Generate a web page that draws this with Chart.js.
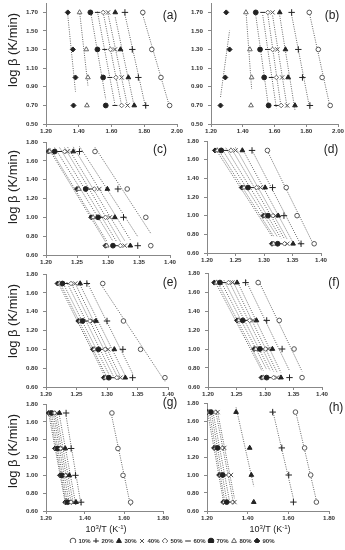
<!DOCTYPE html>
<html>
<head>
<meta charset="utf-8">
<script src="https://cdn.jsdelivr.net/npm/chart.js@4.4.1/dist/chart.umd.min.js"></script>
<style>
  body { margin: 0; background: #fff; width: 345px; height: 550px; position: relative; overflow: hidden;
         font-family: 'Liberation Sans', Arial, sans-serif; color: #222; }
  canvas { position: absolute; }
  .ytitle { position: absolute; width: 100px; height: 16px; line-height: 16px; text-align: center;
            font-size: 13px; transform: rotate(-90deg); white-space: nowrap; }
  .plabel { position: absolute; width: 30px; height: 14px; line-height: 14px; text-align: center; font-size: 12px; }
  .xtitle { position: absolute; width: 80px; height: 12px; line-height: 12px; text-align: center; font-size: 9px; }
  .xtitle sup { font-size: 6px; vertical-align: 3px; line-height: 0; }
</style>
</head>
<body>
<script>
// log of heating rate (50, 20, 10, 5 K/min)
var LOG_BETA = [1.699, 1.301, 1.000, 0.699];
var CONVERSION = ['10%', '20%', '30%', '40%', '50%', '60%', '70%', '80%', '90%'];

// 1000/T values, one row per conversion, same order as LOG_BETA
var X_A = [
  [1.791, 1.846, 1.902, 1.955],
  [1.682, 1.727, 1.764, 1.809],
  [1.623, 1.655, 1.703, 1.739],
  [1.579, 1.621, 1.662, 1.698],
  [1.549, 1.594, 1.627, 1.662],
  [1.514, 1.559, 1.590, 1.621],
  [1.471, 1.514, 1.549, 1.565],
  [1.405, 1.446, 1.456, 1.450],
  [1.333, 1.364, 1.380, 1.368]
];
var X_B = [
  [1.819, 1.876, 1.900, 1.951],
  [1.708, 1.750, 1.776, 1.823],
  [1.633, 1.669, 1.686, 1.729],
  [1.588, 1.618, 1.648, 1.680],
  [1.558, 1.588, 1.612, 1.642],
  [1.526, 1.556, 1.580, 1.612],
  [1.482, 1.509, 1.535, 1.563],
  [1.420, 1.445, 1.456, 1.452],
  [1.296, 1.317, 1.290, 1.260]
];
var X_C = [
  [1.279, 1.331, 1.361, 1.369],
  [1.254, 1.316, 1.325, 1.348],
  [1.244, 1.299, 1.311, 1.336],
  [1.235, 1.286, 1.303, 1.327],
  [1.230, 1.278, 1.296, 1.320],
  [1.222, 1.271, 1.289, 1.314],
  [1.214, 1.264, 1.284, 1.308],
  [1.206, 1.253, 1.276, 1.298],
  [1.204, 1.250, 1.273, 1.296]
];
var X_D = [
  [1.306, 1.339, 1.358, 1.388],
  [1.279, 1.315, 1.335, 1.365],
  [1.262, 1.302, 1.325, 1.351],
  [1.250, 1.294, 1.320, 1.341],
  [1.242, 1.287, 1.316, 1.336],
  [1.233, 1.279, 1.311, 1.330],
  [1.225, 1.272, 1.307, 1.324],
  [1.218, 1.265, 1.302, 1.317],
  [1.214, 1.261, 1.299, 1.314]
];
var X_E = [
  [1.293, 1.327, 1.355, 1.395],
  [1.267, 1.300, 1.326, 1.342],
  [1.256, 1.282, 1.312, 1.330],
  [1.248, 1.277, 1.302, 1.322],
  [1.241, 1.272, 1.297, 1.316],
  [1.234, 1.267, 1.290, 1.310],
  [1.227, 1.260, 1.286, 1.303],
  [1.222, 1.256, 1.279, 1.298],
  [1.219, 1.253, 1.277, 1.295]
];
var X_F = [
  [1.288, 1.325, 1.351, 1.365],
  [1.266, 1.303, 1.330, 1.343],
  [1.251, 1.285, 1.313, 1.328],
  [1.243, 1.279, 1.306, 1.321],
  [1.236, 1.273, 1.301, 1.315],
  [1.228, 1.266, 1.296, 1.309],
  [1.221, 1.261, 1.291, 1.303],
  [1.215, 1.254, 1.284, 1.297],
  [1.211, 1.251, 1.281, 1.294]
];
var X_G = [
  [1.538, 1.569, 1.595, 1.634],
  [1.303, 1.329, 1.351, 1.380],
  [1.269, 1.299, 1.320, 1.354],
  [1.255, 1.286, 1.311, 1.341],
  [1.245, 1.277, 1.303, 1.329],
  [1.238, 1.269, 1.291, 1.320],
  [1.229, 1.260, 1.282, 1.311],
  [1.221, 1.251, 1.277, 1.303],
  [1.214, 1.246, 1.272, 1.299]
];
var X_H = [
  [1.635, 1.680, 1.710, 1.738],
  [1.523, 1.568, 1.602, 1.625],
  [1.343, 1.410, 1.418, 1.430],
  [1.252, 1.285, 1.318, 1.335],
  [1.243, 1.277, 1.307, 1.327],
  [1.230, 1.260, 1.290, 1.310],
  [1.220, 1.252, 1.277, 1.297],
  [1.210, 1.243, 1.268, 1.285],
  [1.202, 1.235, 1.260, 1.280]
];

var X_TICKS_AB = [1.20, 1.40, 1.60, 1.80, 2.00];
var X_TICKS_CF = [1.20, 1.25, 1.30, 1.35, 1.40];
var X_TICKS_GH = [1.20, 1.40, 1.60, 1.80];
var Y_TICKS_AB = [0.50, 0.70, 0.90, 1.10, 1.30, 1.50, 1.70];
var Y_TICKS_CH = [0.60, 0.80, 1.00, 1.20, 1.40, 1.60, 1.80];

Chart.defaults.font.family = "'Liberation Sans', Arial, sans-serif";
Chart.defaults.color = '#333';

// marker look for each conversion (10% .. 90%)
var MARKERS = [
  {style: 'circle', fill: '#fff', line: '#555', r: 2.3},
  {style: 'cross', fill: '#222', line: '#222', r: 3.2},
  {style: 'triangle', fill: '#222', line: '#222', r: 2.7},
  {style: 'crossRot', fill: '#555', line: '#555', r: 3},
  {style: 'rectRot', fill: '#fff', line: '#666', r: 2.3},
  {style: 'line', fill: '#222', line: '#222', r: 2.5},
  {style: 'circle', fill: '#222', line: '#222', r: 2.4},
  {style: 'triangle', fill: '#fff', line: '#666', r: 2.7},
  {style: 'rectRot', fill: '#222', line: '#222', r: 2.5}
];

// least squares line y = a + b x, drawn between the smallest and largest x
function fitLine(xs, ys) {
  var n = xs.length, mx = 0, my = 0, sxy = 0, sxx = 0;
  for (var i = 0; i < n; i++) { mx += xs[i] / n; my += ys[i] / n; }
  for (var j = 0; j < n; j++) {
    sxy += (xs[j] - mx) * (ys[j] - my);
    sxx += (xs[j] - mx) * (xs[j] - mx);
  }
  var b = sxy / sxx, a = my - b * mx;
  var x0 = Math.min.apply(null, xs), x1 = Math.max.apply(null, xs);
  return [{x: x0, y: a + b * x0}, {x: x1, y: a + b * x1}];
}

function axis(min, max, ticks, isX) {
  return {
    type: 'linear', min: min, max: max,
    afterBuildTicks: function(s) {
      s.ticks = ticks.map(function(v) { return {value: v}; });
    },
    afterFit: function(s) {
      if (isX) { s.height = 22; s.paddingLeft = 0; s.paddingRight = 0; }
      else { s.width = 40; s.paddingTop = 0; s.paddingBottom = 0; }
    },
    grid: {drawOnChartArea: false, drawTicks: true, tickLength: 3, color: '#888'},
    border: {color: '#888', width: 1},
    ticks: {
      font: {size: 6.2, weight: 'bold'}, color: '#333',
      padding: isX ? 1 : 5, maxRotation: 0, autoSkip: false,
      callback: function(v) { return Number(v).toFixed(2); }
    }
  };
}

function makePanel(xdata, box, xr, xticks, yr, yticks) {
  var cv = document.createElement('canvas');
  var left = Math.round(box.l) - 40, top = Math.round(box.t) - 8;
  var w = Math.round(box.r) - Math.round(box.l) + 55;
  var h = Math.round(box.b) - Math.round(box.t) + 38;
  cv.width = w; cv.height = h;
  cv.style.left = left + 'px'; cv.style.top = top + 'px';
  cv.style.width = w + 'px'; cv.style.height = h + 'px';
  document.body.appendChild(cv);

  var datasets = [];
  xdata.forEach(function(xs, i) {
    var m = MARKERS[i];
    datasets.push({
      label: CONVERSION[i],
      data: xs.map(function(x, j) { return {x: x, y: LOG_BETA[j]}; }),
      pointStyle: m.style, pointRadius: m.r, pointBackgroundColor: m.fill,
      pointBorderColor: m.line, pointBorderWidth: 1, order: 0
    });
    datasets.push({
      label: CONVERSION[i] + ' fit',
      data: fitLine(xs, LOG_BETA),
      showLine: true, pointRadius: 0, borderColor: '#666', borderWidth: 1,
      borderDash: [1, 1.3], fill: false, order: 1
    });
  });

  new Chart(cv.getContext('2d'), {
    type: 'scatter',
    data: {datasets: datasets},
    options: {
      responsive: false, animation: false,
      layout: {padding: {left: 0, top: 8, right: 15, bottom: 8}},
      scales: {
        x: axis(xr[0], xr[1], xticks, true),
        y: axis(yr[0], yr[1], yticks, false)
      },
      plugins: {legend: {display: false}, tooltip: {enabled: false}}
    }
  });
}

function addText(cls, html, cx, cy, w, h) {
  var d = document.createElement('div');
  d.className = cls;
  d.innerHTML = html;
  d.style.left = (cx - w / 2) + 'px';
  d.style.top = (cy - h / 2) + 'px';
  document.body.appendChild(d);
}

makePanel(X_A, {l: 46, r: 177, t: 3, b: 124}, [1.2, 2.0], X_TICKS_AB, [0.5, 1.8], Y_TICKS_AB);
makePanel(X_B, {l: 211, r: 338, t: 3, b: 124}, [1.2, 2.0], X_TICKS_AB, [0.5, 1.8], Y_TICKS_AB);
makePanel(X_C, {l: 46, r: 170, t: 142, b: 255}, [1.2, 1.4], X_TICKS_CF, [0.6, 1.8], Y_TICKS_CH);
makePanel(X_D, {l: 207, r: 321, t: 141, b: 253}, [1.2, 1.4], X_TICKS_CF, [0.6, 1.8], Y_TICKS_CH);
makePanel(X_E, {l: 46, r: 168, t: 274, b: 387}, [1.2, 1.4], X_TICKS_CF, [0.6, 1.8], Y_TICKS_CH);
makePanel(X_F, {l: 208, r: 322, t: 273, b: 387}, [1.2, 1.4], X_TICKS_CF, [0.6, 1.8], Y_TICKS_CH);
makePanel(X_G, {l: 46, r: 163, t: 404, b: 511}, [1.2, 1.8], X_TICKS_GH, [0.6, 1.8], Y_TICKS_CH);
makePanel(X_H, {l: 207, r: 329, t: 403, b: 511}, [1.2, 1.8], X_TICKS_GH, [0.6, 1.8], Y_TICKS_CH);

[50, 187, 321, 451].forEach(function(cy) {
  addText('ytitle', 'log \u03b2 (K/min)', 12.5, cy, 100, 16);
});
var PANEL_LABELS = ['(a)', '(b)', '(c)', '(d)', '(e)', '(f)', '(g)', '(h)'];
var LABEL_POS = [[170, 15], [332, 15], [160, 149], [331, 149], [170, 282], [334, 282], [170, 402], [336, 407]];
PANEL_LABELS.forEach(function(t, i) {
  addText('plabel', t, LABEL_POS[i][0], LABEL_POS[i][1], 30, 14);
});
addText('xtitle', '10<sup>3</sup>/T (K<sup>-1</sup>)', 106, 529, 80, 12);
addText('xtitle', '10<sup>3</sup>/T (K<sup>-1</sup>)', 270, 529, 80, 12);

// shared legend under the bottom row
var lg = document.createElement('canvas');
lg.width = 345; lg.height = 16;
lg.style.left = '0px'; lg.style.top = '535px';
document.body.appendChild(lg);
new Chart(lg.getContext('2d'), {
  type: 'scatter',
  data: {
    datasets: CONVERSION.map(function(c, i) {
      var m = MARKERS[i];
      return {label: c, data: [], pointStyle: m.style, pointRadius: m.r,
              pointBackgroundColor: m.fill, pointBorderColor: m.line, pointBorderWidth: 1};
    })
  },
  options: {
    responsive: false, animation: false,
    layout: {padding: 0},
    scales: {x: {display: false}, y: {display: false}},
    plugins: {
      tooltip: {enabled: false},
      legend: {
        position: 'top',
        labels: {usePointStyle: true, boxWidth: 5, boxHeight: 4, padding: 3,
                 font: {size: 6, weight: 'bold'}, color: '#333'}
      }
    }
  }
});
</script>
</body>
</html>
